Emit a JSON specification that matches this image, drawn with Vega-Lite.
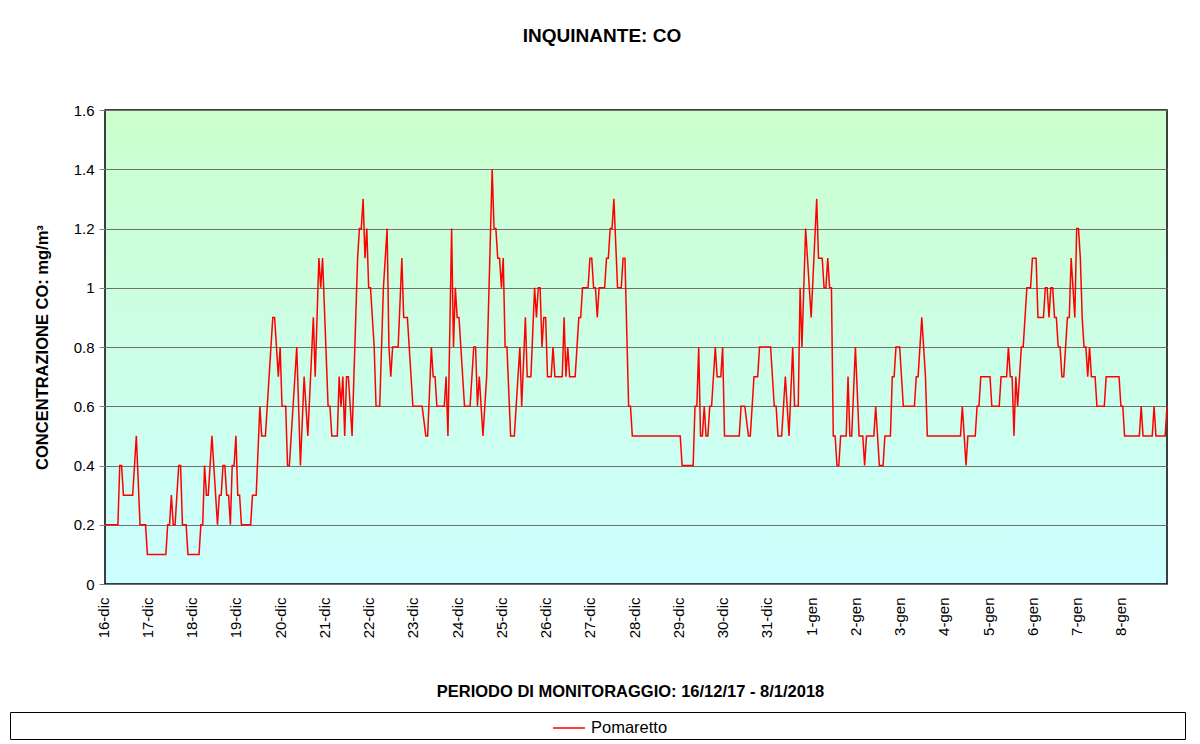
{
  "$schema": "https://vega.github.io/schema/vega-lite/v6.json",
  "autosize": {"type": "none"},
  "padding": {"left": 105, "top": 110, "right": 33, "bottom": 160},
  "width": 1062,
  "height": 474,
  "background": "#ffffff",
  "title": {"text": "INQUINANTE: CO", "font": "Liberation Sans", "fontSize": 19, "fontWeight": "bold", "color": "#000000", "anchor": "middle", "dx": -34, "offset": 38, "baseline": "bottom"},
  "config": {
    "font": "Liberation Sans",
    "view": {"fill": {"gradient": "linear", "x1": 0, "y1": 0, "x2": 0, "y2": 1, "stops": [{"offset": 0, "color": "#ccffcc"}, {"offset": 1, "color": "#ccffff"}]}, "stroke": "#000000", "strokeWidth": 1.5}
  },
  "data": {"values": [
    {"ora":"2017-12-16T00:00","co":0.2},{"ora":"2017-12-16T07:00","co":0.2},{"ora":"2017-12-16T08:00","co":0.4},{"ora":"2017-12-16T09:00","co":0.4},{"ora":"2017-12-16T10:00","co":0.3},{"ora":"2017-12-16T15:00","co":0.3},{"ora":"2017-12-16T17:00","co":0.5},{"ora":"2017-12-16T19:00","co":0.2},{"ora":"2017-12-16T22:00","co":0.2},{"ora":"2017-12-16T23:00","co":0.1},
    {"ora":"2017-12-17T09:00","co":0.1},{"ora":"2017-12-17T10:00","co":0.2},{"ora":"2017-12-17T11:00","co":0.2},{"ora":"2017-12-17T12:00","co":0.3},{"ora":"2017-12-17T13:00","co":0.2},{"ora":"2017-12-17T14:00","co":0.2},{"ora":"2017-12-17T16:00","co":0.4},{"ora":"2017-12-17T17:00","co":0.4},{"ora":"2017-12-17T18:00","co":0.2},{"ora":"2017-12-17T20:00","co":0.2},{"ora":"2017-12-17T21:00","co":0.1},
    {"ora":"2017-12-18T03:00","co":0.1},{"ora":"2017-12-18T04:00","co":0.2},{"ora":"2017-12-18T05:00","co":0.2},{"ora":"2017-12-18T06:00","co":0.4},{"ora":"2017-12-18T07:00","co":0.3},{"ora":"2017-12-18T08:00","co":0.3},{"ora":"2017-12-18T10:00","co":0.5},{"ora":"2017-12-18T13:00","co":0.2},{"ora":"2017-12-18T14:00","co":0.3},{"ora":"2017-12-18T15:00","co":0.3},{"ora":"2017-12-18T16:00","co":0.4},{"ora":"2017-12-18T17:00","co":0.4},{"ora":"2017-12-18T18:00","co":0.3},{"ora":"2017-12-18T19:00","co":0.3},{"ora":"2017-12-18T20:00","co":0.2},{"ora":"2017-12-18T21:00","co":0.4},{"ora":"2017-12-18T22:00","co":0.4},{"ora":"2017-12-18T23:00","co":0.5},
    {"ora":"2017-12-19T00:00","co":0.3},{"ora":"2017-12-19T01:00","co":0.3},{"ora":"2017-12-19T02:00","co":0.2},{"ora":"2017-12-19T07:00","co":0.2},{"ora":"2017-12-19T08:00","co":0.3},{"ora":"2017-12-19T10:00","co":0.3},{"ora":"2017-12-19T12:00","co":0.6},{"ora":"2017-12-19T13:00","co":0.5},{"ora":"2017-12-19T15:00","co":0.5},{"ora":"2017-12-19T19:00","co":0.9},{"ora":"2017-12-19T20:00","co":0.9},{"ora":"2017-12-19T22:00","co":0.7},{"ora":"2017-12-19T23:00","co":0.8},
    {"ora":"2017-12-20T00:00","co":0.6},{"ora":"2017-12-20T02:00","co":0.6},{"ora":"2017-12-20T03:00","co":0.4},{"ora":"2017-12-20T04:00","co":0.4},{"ora":"2017-12-20T08:00","co":0.8},{"ora":"2017-12-20T10:00","co":0.4},{"ora":"2017-12-20T12:00","co":0.7},{"ora":"2017-12-20T14:00","co":0.5},{"ora":"2017-12-20T17:00","co":0.9},{"ora":"2017-12-20T18:00","co":0.7},{"ora":"2017-12-20T20:00","co":1.1},{"ora":"2017-12-20T21:00","co":1.0},{"ora":"2017-12-20T22:00","co":1.1},
    {"ora":"2017-12-21T01:00","co":0.6},{"ora":"2017-12-21T02:00","co":0.6},{"ora":"2017-12-21T03:00","co":0.5},{"ora":"2017-12-21T06:00","co":0.5},{"ora":"2017-12-21T07:00","co":0.7},{"ora":"2017-12-21T08:00","co":0.6},{"ora":"2017-12-21T09:00","co":0.7},{"ora":"2017-12-21T10:00","co":0.5},{"ora":"2017-12-21T11:00","co":0.7},{"ora":"2017-12-21T12:00","co":0.7},{"ora":"2017-12-21T14:00","co":0.5},{"ora":"2017-12-21T17:00","co":1.1},{"ora":"2017-12-21T18:00","co":1.2},{"ora":"2017-12-21T19:00","co":1.2},{"ora":"2017-12-21T20:00","co":1.3},{"ora":"2017-12-21T21:00","co":1.1},{"ora":"2017-12-21T22:00","co":1.2},{"ora":"2017-12-21T23:00","co":1.0},
    {"ora":"2017-12-22T00:00","co":1.0},{"ora":"2017-12-22T02:00","co":0.8},{"ora":"2017-12-22T03:00","co":0.6},{"ora":"2017-12-22T05:00","co":0.6},{"ora":"2017-12-22T07:00","co":1.0},{"ora":"2017-12-22T09:00","co":1.2},{"ora":"2017-12-22T10:00","co":0.8},{"ora":"2017-12-22T11:00","co":0.7},{"ora":"2017-12-22T12:00","co":0.8},{"ora":"2017-12-22T15:00","co":0.8},{"ora":"2017-12-22T17:00","co":1.1},{"ora":"2017-12-22T18:00","co":0.9},{"ora":"2017-12-22T20:00","co":0.9},{"ora":"2017-12-22T23:00","co":0.6},
    {"ora":"2017-12-23T04:00","co":0.6},{"ora":"2017-12-23T06:00","co":0.5},{"ora":"2017-12-23T07:00","co":0.5},{"ora":"2017-12-23T09:00","co":0.8},{"ora":"2017-12-23T10:00","co":0.7},{"ora":"2017-12-23T11:00","co":0.7},{"ora":"2017-12-23T12:00","co":0.6},{"ora":"2017-12-23T16:00","co":0.6},{"ora":"2017-12-23T17:00","co":0.7},{"ora":"2017-12-23T18:00","co":0.5},{"ora":"2017-12-23T20:00","co":1.2},{"ora":"2017-12-23T21:00","co":0.8},{"ora":"2017-12-23T22:00","co":1.0},{"ora":"2017-12-23T23:00","co":0.9},
    {"ora":"2017-12-24T00:00","co":0.9},{"ora":"2017-12-24T03:00","co":0.6},{"ora":"2017-12-24T06:00","co":0.6},{"ora":"2017-12-24T08:00","co":0.8},{"ora":"2017-12-24T09:00","co":0.8},{"ora":"2017-12-24T10:00","co":0.6},{"ora":"2017-12-24T11:00","co":0.7},{"ora":"2017-12-24T13:00","co":0.5},{"ora":"2017-12-24T15:00","co":0.7},{"ora":"2017-12-24T18:00","co":1.4},{"ora":"2017-12-24T19:00","co":1.2},{"ora":"2017-12-24T20:00","co":1.2},{"ora":"2017-12-24T21:00","co":1.1},{"ora":"2017-12-24T22:00","co":1.1},{"ora":"2017-12-24T23:00","co":1.0},
    {"ora":"2017-12-25T00:00","co":1.1},{"ora":"2017-12-25T01:00","co":0.8},{"ora":"2017-12-25T02:00","co":0.8},{"ora":"2017-12-25T04:00","co":0.5},{"ora":"2017-12-25T06:00","co":0.5},{"ora":"2017-12-25T09:00","co":0.8},{"ora":"2017-12-25T10:00","co":0.6},{"ora":"2017-12-25T12:00","co":0.9},{"ora":"2017-12-25T13:00","co":0.7},{"ora":"2017-12-25T15:00","co":0.7},{"ora":"2017-12-25T17:00","co":1.0},{"ora":"2017-12-25T18:00","co":0.9},{"ora":"2017-12-25T19:00","co":1.0},{"ora":"2017-12-25T20:00","co":1.0},{"ora":"2017-12-25T21:00","co":0.8},{"ora":"2017-12-25T22:00","co":0.9},{"ora":"2017-12-25T23:00","co":0.9},
    {"ora":"2017-12-26T00:00","co":0.7},{"ora":"2017-12-26T02:00","co":0.7},{"ora":"2017-12-26T03:00","co":0.8},{"ora":"2017-12-26T04:00","co":0.7},{"ora":"2017-12-26T08:00","co":0.7},{"ora":"2017-12-26T09:00","co":0.9},{"ora":"2017-12-26T10:00","co":0.7},{"ora":"2017-12-26T11:00","co":0.8},{"ora":"2017-12-26T12:00","co":0.7},{"ora":"2017-12-26T15:00","co":0.7},{"ora":"2017-12-26T17:00","co":0.9},{"ora":"2017-12-26T18:00","co":0.9},{"ora":"2017-12-26T19:00","co":1.0},{"ora":"2017-12-26T22:00","co":1.0},{"ora":"2017-12-26T23:00","co":1.1},
    {"ora":"2017-12-27T00:00","co":1.1},{"ora":"2017-12-27T01:00","co":1.0},{"ora":"2017-12-27T02:00","co":1.0},{"ora":"2017-12-27T03:00","co":0.9},{"ora":"2017-12-27T04:00","co":1.0},{"ora":"2017-12-27T07:00","co":1.0},{"ora":"2017-12-27T08:00","co":1.1},{"ora":"2017-12-27T09:00","co":1.1},{"ora":"2017-12-27T10:00","co":1.2},{"ora":"2017-12-27T11:00","co":1.2},{"ora":"2017-12-27T12:00","co":1.3},{"ora":"2017-12-27T14:00","co":1.0},{"ora":"2017-12-27T16:00","co":1.0},{"ora":"2017-12-27T17:00","co":1.1},{"ora":"2017-12-27T18:00","co":1.1},{"ora":"2017-12-27T20:00","co":0.6},{"ora":"2017-12-27T21:00","co":0.6},{"ora":"2017-12-27T22:00","co":0.5},
    {"ora":"2017-12-29T00:00","co":0.5},{"ora":"2017-12-29T01:00","co":0.4},{"ora":"2017-12-29T07:00","co":0.4},{"ora":"2017-12-29T08:00","co":0.6},{"ora":"2017-12-29T09:00","co":0.6},{"ora":"2017-12-29T10:00","co":0.8},{"ora":"2017-12-29T11:00","co":0.5},{"ora":"2017-12-29T12:00","co":0.5},{"ora":"2017-12-29T13:00","co":0.6},{"ora":"2017-12-29T14:00","co":0.5},{"ora":"2017-12-29T15:00","co":0.5},{"ora":"2017-12-29T16:00","co":0.6},{"ora":"2017-12-29T17:00","co":0.6},{"ora":"2017-12-29T19:00","co":0.8},{"ora":"2017-12-29T20:00","co":0.7},{"ora":"2017-12-29T22:00","co":0.7},{"ora":"2017-12-29T23:00","co":0.8},
    {"ora":"2017-12-30T00:00","co":0.5},{"ora":"2017-12-30T08:00","co":0.5},{"ora":"2017-12-30T09:00","co":0.6},{"ora":"2017-12-30T11:00","co":0.6},{"ora":"2017-12-30T13:00","co":0.5},{"ora":"2017-12-30T14:00","co":0.5},{"ora":"2017-12-30T16:00","co":0.7},{"ora":"2017-12-30T18:00","co":0.7},{"ora":"2017-12-30T19:00","co":0.8},
    {"ora":"2017-12-31T01:00","co":0.8},{"ora":"2017-12-31T03:00","co":0.6},{"ora":"2017-12-31T04:00","co":0.6},{"ora":"2017-12-31T05:00","co":0.5},{"ora":"2017-12-31T07:00","co":0.5},{"ora":"2017-12-31T09:00","co":0.7},{"ora":"2017-12-31T11:00","co":0.5},{"ora":"2017-12-31T13:00","co":0.8},{"ora":"2017-12-31T14:00","co":0.6},{"ora":"2017-12-31T16:00","co":0.6},{"ora":"2017-12-31T17:00","co":1.0},{"ora":"2017-12-31T18:00","co":0.8},{"ora":"2017-12-31T20:00","co":1.2},{"ora":"2017-12-31T23:00","co":0.9},
    {"ora":"2018-01-01T02:00","co":1.3},{"ora":"2018-01-01T03:00","co":1.1},{"ora":"2018-01-01T05:00","co":1.1},{"ora":"2018-01-01T06:00","co":1.0},{"ora":"2018-01-01T07:00","co":1.0},{"ora":"2018-01-01T08:00","co":1.1},{"ora":"2018-01-01T09:00","co":1.0},{"ora":"2018-01-01T10:00","co":1.0},{"ora":"2018-01-01T11:00","co":0.5},{"ora":"2018-01-01T12:00","co":0.5},{"ora":"2018-01-01T13:00","co":0.4},{"ora":"2018-01-01T14:00","co":0.4},{"ora":"2018-01-01T15:00","co":0.5},{"ora":"2018-01-01T18:00","co":0.5},{"ora":"2018-01-01T19:00","co":0.7},{"ora":"2018-01-01T20:00","co":0.5},{"ora":"2018-01-01T21:00","co":0.5},{"ora":"2018-01-01T23:00","co":0.8},
    {"ora":"2018-01-02T01:00","co":0.5},{"ora":"2018-01-02T03:00","co":0.5},{"ora":"2018-01-02T04:00","co":0.4},{"ora":"2018-01-02T05:00","co":0.5},{"ora":"2018-01-02T09:00","co":0.5},{"ora":"2018-01-02T10:00","co":0.6},{"ora":"2018-01-02T12:00","co":0.4},{"ora":"2018-01-02T14:00","co":0.4},{"ora":"2018-01-02T15:00","co":0.5},{"ora":"2018-01-02T18:00","co":0.5},{"ora":"2018-01-02T19:00","co":0.7},{"ora":"2018-01-02T20:00","co":0.7},{"ora":"2018-01-02T21:00","co":0.8},{"ora":"2018-01-02T23:00","co":0.8},
    {"ora":"2018-01-03T01:00","co":0.6},{"ora":"2018-01-03T07:00","co":0.6},{"ora":"2018-01-03T08:00","co":0.7},{"ora":"2018-01-03T09:00","co":0.7},{"ora":"2018-01-03T11:00","co":0.9},{"ora":"2018-01-03T13:00","co":0.7},{"ora":"2018-01-03T14:00","co":0.5},
    {"ora":"2018-01-04T08:00","co":0.5},{"ora":"2018-01-04T09:00","co":0.6},{"ora":"2018-01-04T11:00","co":0.4},{"ora":"2018-01-04T12:00","co":0.5},{"ora":"2018-01-04T16:00","co":0.5},{"ora":"2018-01-04T17:00","co":0.6},{"ora":"2018-01-04T18:00","co":0.6},{"ora":"2018-01-04T19:00","co":0.7},
    {"ora":"2018-01-05T00:00","co":0.7},{"ora":"2018-01-05T01:00","co":0.6},{"ora":"2018-01-05T05:00","co":0.6},{"ora":"2018-01-05T06:00","co":0.7},{"ora":"2018-01-05T09:00","co":0.7},{"ora":"2018-01-05T10:00","co":0.8},{"ora":"2018-01-05T11:00","co":0.7},{"ora":"2018-01-05T12:00","co":0.7},{"ora":"2018-01-05T13:00","co":0.5},{"ora":"2018-01-05T14:00","co":0.7},{"ora":"2018-01-05T15:00","co":0.6},{"ora":"2018-01-05T17:00","co":0.8},{"ora":"2018-01-05T18:00","co":0.8},{"ora":"2018-01-05T20:00","co":1.0},{"ora":"2018-01-05T22:00","co":1.0},{"ora":"2018-01-05T23:00","co":1.1},
    {"ora":"2018-01-06T01:00","co":1.1},{"ora":"2018-01-06T02:00","co":0.9},{"ora":"2018-01-06T05:00","co":0.9},{"ora":"2018-01-06T06:00","co":1.0},{"ora":"2018-01-06T07:00","co":1.0},{"ora":"2018-01-06T08:00","co":0.9},{"ora":"2018-01-06T09:00","co":1.0},{"ora":"2018-01-06T10:00","co":1.0},{"ora":"2018-01-06T11:00","co":0.9},{"ora":"2018-01-06T12:00","co":0.9},{"ora":"2018-01-06T13:00","co":0.8},{"ora":"2018-01-06T14:00","co":0.8},{"ora":"2018-01-06T15:00","co":0.7},{"ora":"2018-01-06T16:00","co":0.7},{"ora":"2018-01-06T18:00","co":0.9},{"ora":"2018-01-06T19:00","co":0.9},{"ora":"2018-01-06T20:00","co":1.1},{"ora":"2018-01-06T22:00","co":0.9},{"ora":"2018-01-06T23:00","co":1.2},
    {"ora":"2018-01-07T00:00","co":1.2},{"ora":"2018-01-07T01:00","co":1.1},{"ora":"2018-01-07T02:00","co":0.9},{"ora":"2018-01-07T03:00","co":0.8},{"ora":"2018-01-07T04:00","co":0.8},{"ora":"2018-01-07T05:00","co":0.7},{"ora":"2018-01-07T06:00","co":0.8},{"ora":"2018-01-07T07:00","co":0.7},{"ora":"2018-01-07T09:00","co":0.7},{"ora":"2018-01-07T10:00","co":0.6},{"ora":"2018-01-07T14:00","co":0.6},{"ora":"2018-01-07T15:00","co":0.7},{"ora":"2018-01-07T22:00","co":0.7},{"ora":"2018-01-07T23:00","co":0.6},
    {"ora":"2018-01-08T00:00","co":0.6},{"ora":"2018-01-08T01:00","co":0.5},{"ora":"2018-01-08T09:00","co":0.5},{"ora":"2018-01-08T10:00","co":0.6},{"ora":"2018-01-08T11:00","co":0.5},{"ora":"2018-01-08T16:00","co":0.5},{"ora":"2018-01-08T17:00","co":0.6},{"ora":"2018-01-08T18:00","co":0.5},{"ora":"2018-01-08T23:00","co":0.5},
    {"ora":"2018-01-09T00:00","co":0.6}
  ]},
  "mark": {"type": "line", "strokeWidth": 1.5, "interpolate": "linear"},
  "encoding": {
    "x": {
      "field": "ora", "type": "temporal",
      "scale": {"domain": [{"year": 2017, "month": 12, "date": 16}, {"year": 2018, "month": 1, "date": 9}], "nice": false},
      "axis": {
        "title": "PERIODO DI MONITORAGGIO: 16/12/17 - 8/1/2018",
        "titleFont": "Liberation Sans", "titleFontSize": 16.5, "titleFontWeight": "bold", "titleColor": "#000000", "titlePadding": 46, "titleX": 525,
        "tickCount": {"interval": "day", "step": 1},
        "labelExpr": "(month(datum.value) == 0 && date(datum.value) == 9) ? '' : (date(datum.value) + '-' + (month(datum.value) == 11 ? 'dic' : 'gen'))",
        "labelAngle": 270, "labelAlign": "right", "labelBaseline": "middle", "labelPadding": 13, "labelOffset": -2,
        "labelFont": "Liberation Sans", "labelFontSize": 15, "labelColor": "#000000",
        "labelOverlap": false, "labelFlush": false, "labelBound": false,
        "ticks": false, "domain": false, "grid": false
      }
    },
    "y": {
      "field": "co", "type": "quantitative",
      "scale": {"domain": [0, 1.6], "nice": false, "zero": true},
      "axis": {
        "title": "CONCENTRAZIONE CO: mg/m³",
        "titleFont": "Liberation Sans", "titleFontSize": 16.5, "titleFontWeight": "bold", "titleColor": "#000000", "titlePadding": 23,
        "values": [0, 0.2, 0.4, 0.6, 0.8, 1, 1.2, 1.4, 1.6],
        "format": ".1~f",
        "labelFont": "Liberation Sans", "labelFontSize": 15, "labelColor": "#000000", "labelPadding": 5,
        "ticks": true, "tickSize": 6, "tickColor": "#808080", "tickWidth": 1,
        "domain": false,
        "grid": true, "gridColor": "#707070", "gridWidth": 1, "gridOpacity": 1
      }
    },
    "color": {
      "datum": "Pomaretto",
      "scale": {"range": ["#ff0000"]},
      "legend": {
        "title": " ", "titleOrient": "right", "titlePadding": 516, "titleFontSize": 14,
        "orient": "none", "legendX": -95, "legendY": 602,
        "direction": "horizontal",
        "strokeColor": "#000000", "fillColor": "#ffffff", "padding": 2,
        "symbolType": "M-1.23,0H1.23", "symbolSize": 676, "symbolStrokeWidth": 1.5, "symbolOffset": 543,
        "labelFont": "Liberation Sans", "labelFontSize": 16.5, "labelColor": "#000000", "labelOffset": 8
      }
    }
  }
}
